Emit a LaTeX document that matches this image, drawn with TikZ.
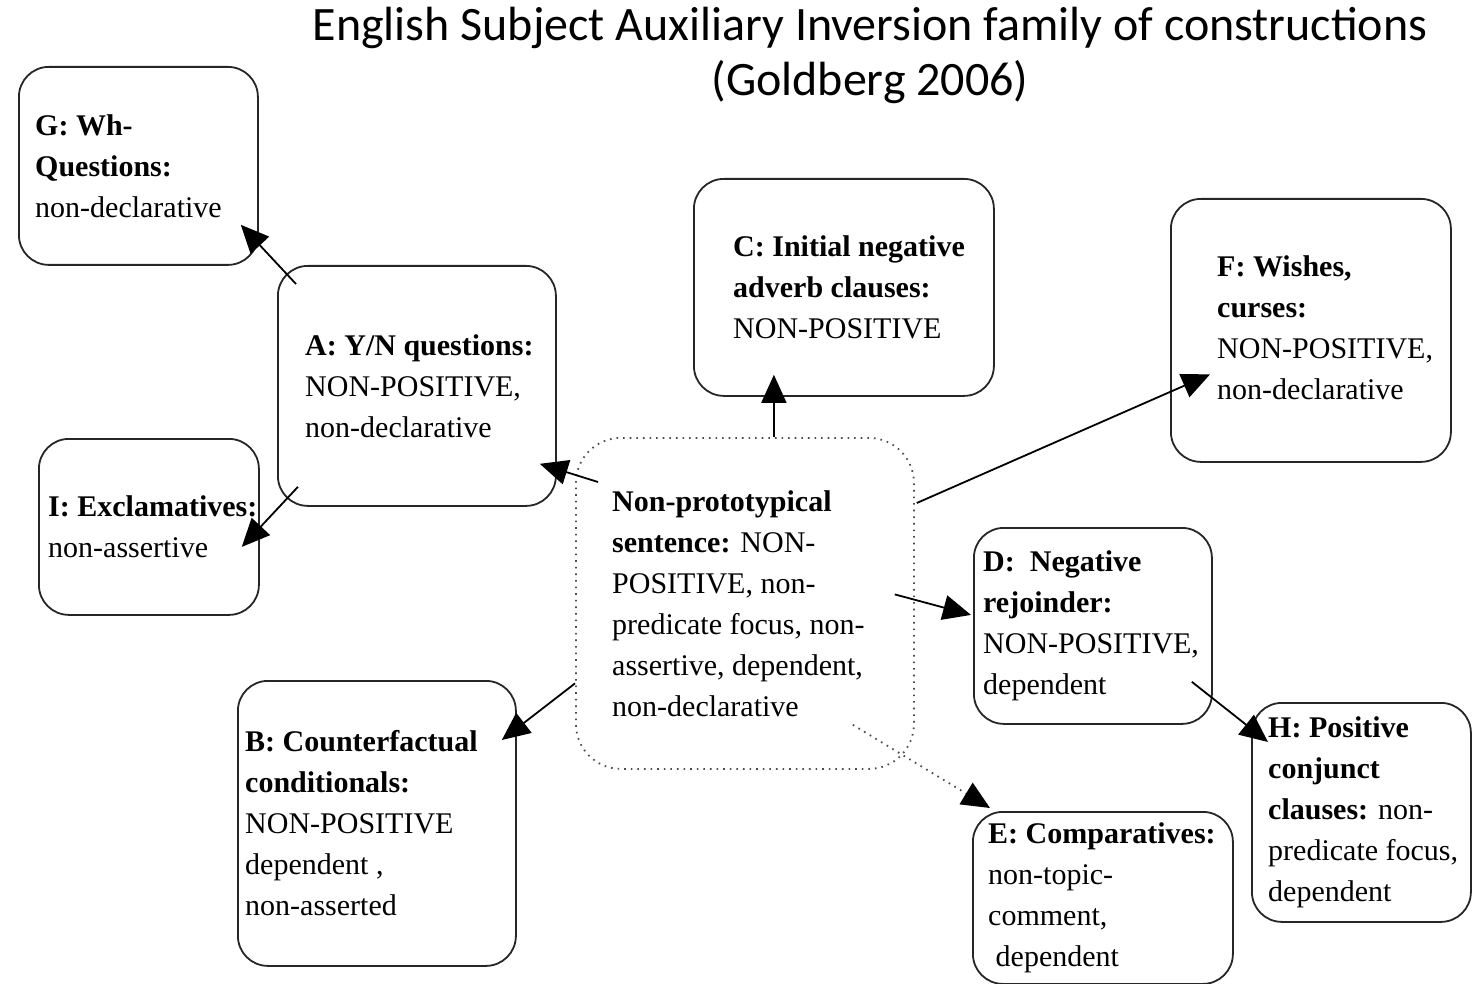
\documentclass[tikz,border=0pt]{standalone}
\usepackage{fontspec}
\setmainfont{Liberation Serif}
\newfontfamily\titlefont{Carlito}
\usetikzlibrary{arrows.meta,calc}
\begin{document}
\begin{tikzpicture}[x=1pt,y=-1pt,
  box/.style={draw=black!85, line width=1.8pt, rounded corners=30pt, inner sep=0pt, anchor=north west},
  hub/.style={draw=black!70, line width=1.8pt, dash pattern=on 1.6pt off 5pt, rounded corners=45pt, inner sep=0pt, anchor=north west},
  txt/.style={anchor=west, align=left, inner sep=0pt, font=\fontsize{30}{41}\selectfont},
  link/.style={line width=1.8pt, draw=black, -{Triangle[length=28pt,width=25pt]}},
  dlink/.style={line width=1.8pt, draw=black!70, dash pattern=on 1.6pt off 5pt, -{Triangle[length=28pt,width=25pt,color=black]}}
]
\useasboundingbox (0,0) rectangle (1481,984);

% heading
\node[font=\titlefont\fontsize{48}{55}\selectfont, align=center, inner sep=0pt] (title) at (870,55)
  {English Subject Auxiliary Inversion family of constructions\\(Goldberg 2006)};

% frames
\node[box, minimum width=239pt, minimum height=198pt] (G) at (18,66) {};
\node[box, minimum width=278pt, minimum height=240pt] (A) at (277,265) {};
\node[box, minimum width=220pt, minimum height=176pt] (I) at (38,438) {};
\node[box, minimum width=300pt, minimum height=217pt] (C) at (693,178) {};
\node[box, minimum width=280pt, minimum height=263pt] (F) at (1170,198) {};
\node[hub, minimum width=338pt, minimum height=331pt] (N) at (575,437) {};
\node[box, minimum width=238pt, minimum height=196pt] (D) at (973,527) {};
\node[box, minimum width=278pt, minimum height=285pt] (B) at (237,680) {};
\node[box, minimum width=219pt, minimum height=219pt] (H) at (1251,702) {};
\node[box, minimum width=260pt, minimum height=172pt] (E) at (972,811) {};

% texts
\node[txt] (Gt) at ($(G.west)+(17,0)$) {\textbf{G: Wh-}\\\textbf{Questions:}\\non-declarative};
\node[txt] (At) at ($(A.west)+(28,0)$) {\textbf{A: Y/N questions:}\\NON-POSITIVE,\\non-declarative};
\node[txt] (It) at ($(I.west)+(10,0)$) {\textbf{I: Exclamatives:}\\non-assertive};
\node[txt] (Ct) at ($(C.west)+(40,0)$) {\textbf{C: Initial negative}\\\textbf{adverb clauses:}\\NON-POSITIVE};
\node[txt] (Ft) at ($(F.west)+(47,-3)$) {\textbf{F: Wishes,}\\\textbf{curses:}\\NON-POSITIVE,\\non-declarative};
\node[txt] (Nt) at ($(N.west)+(37,0)$) {\textbf{Non-prototypical}\\\textbf{sentence:} NON-\\POSITIVE, non-\\predicate focus, non-\\assertive, dependent,\\non-declarative};
\node[txt] (Dt) at ($(D.west)+(10,0)$) {\textbf{D:\ \ Negative}\\\textbf{rejoinder:}\\NON-POSITIVE,\\dependent};
\node[txt] (Bt) at ($(B.west)+(8,0)$) {\textbf{B: Counterfactual}\\\textbf{conditionals:}\\NON-POSITIVE\\dependent ,\\non-asserted};
\node[txt] (Ht) at ($(H.west)+(17,0)$) {\textbf{H: Positive}\\\textbf{conjunct}\\\textbf{clauses:} non-\\predicate focus,\\dependent};
\node[txt] (Et) at ($(E.west)+(16,0)$) {\textbf{E: Comparatives:}\\non-topic-\\comment,\\\ dependent};

% links
\draw[link] ($(A.north west)+(19,19)$) -- ($(G.south east)+(-18,-41)$);
\draw[link] ($(A.south west)+(21,-20)$) -- ($(I.east)+(-18,20)$);
\draw[link] ($(N.north west)+(23,45)$) -- ($(A.south east)+(-17,-43)$);
\draw[link] ($(N.north)+(29,0)$) -- ($(C.south)+(-70,-22)$);
\draw[link] ($(N.north east)+(2,66)$) -- ($(F.west)+(40,44)$);
\draw[link] ($(N.east)+(-20,-9)$) -- ($(D.west)+(-2,-11)$);
\draw[dlink] ($(N.south east)+(-62,-45)$) -- ($(E.north west)+(18,-3)$);
\draw[link] ($(N.west)+(0,80)$) -- ($(B.north east)+(-15,60)$);
\draw[link] ($(D.south east)+(-21,-43)$) -- ($(H.north west)+(17,40)$);
\end{tikzpicture}
\end{document}
